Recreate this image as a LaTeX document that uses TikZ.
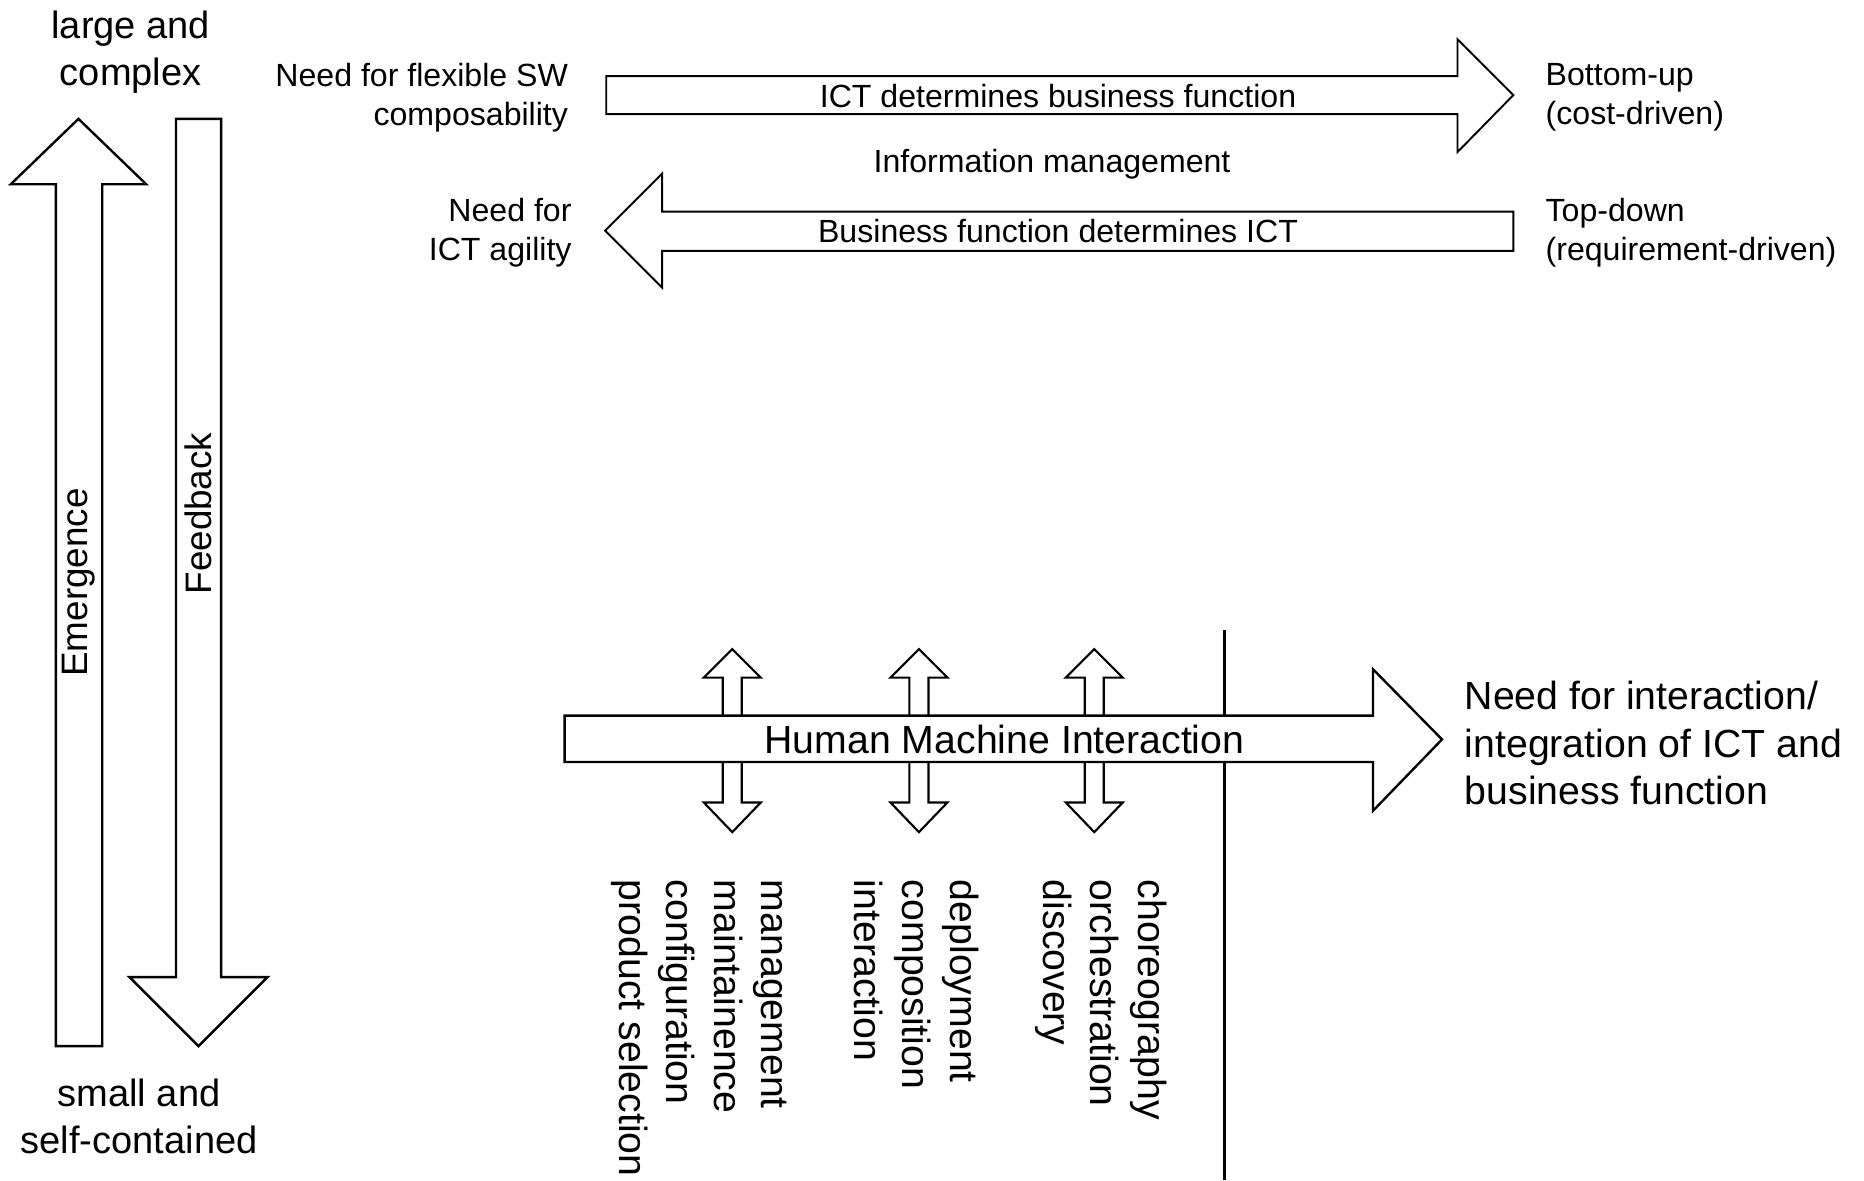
\documentclass[tikz,border=0pt]{standalone}
\usepackage{fontspec}
\setmainfont{Liberation Sans}
\begin{document}
\begin{tikzpicture}[x=1pt,y=-1pt,
  shapeline/.style={draw=black,line width=2pt,fill=white,line join=miter},
  thinshape/.style={draw=black,line width=1.6pt,fill=white,line join=miter},
  small/.style={font=\fontsize{27}{33}\selectfont,inner sep=0pt},
  side/.style={font=\fontsize{32}{39}\selectfont,inner sep=0pt,align=center},
  big/.style={font=\fontsize{33}{40}\selectfont,inner sep=0pt},
  vert/.style={font=\fontsize{33}{40}\selectfont,inner sep=0pt,rotate=-90,anchor=west,align=left}]
\useasboundingbox (0,0) rectangle (1568,993);

% scale labels on the left
\node[side] (large) at (110,44) {large and\\complex};
\node[side] (small) at (117,939) {small and\\self-contained};

% Emergence (upward) and Feedback (downward) block arrows
\draw[shapeline] (47,880) -- (47,155) -- (9,155) -- (66,100) -- (123,155) -- (86,155) -- (86,880) -- cycle;
\node[font=\fontsize{31}{37}\selectfont,inner sep=0pt,rotate=90] (emerg) at (66,490) {Emergence};
\draw[shapeline] (148,100) -- (186,100) -- (186,822) -- (225,822) -- (167,880) -- (109,822) -- (148,822) -- cycle;
\node[font=\fontsize{31}{37}\selectfont,inner sep=0pt,rotate=90] (feed) at (167,432) {Feedback};

% information management arrows
\draw[thinshape] (510,64) -- (1226,64) -- (1226,33) -- (1273,80) -- (1226,128) -- (1226,96) -- (510,96) -- cycle;
\node[small] (ictbf) at (890,81) {ICT determines business function};
\draw[thinshape] (1273,178) -- (557,178) -- (557,146) -- (509,194) -- (557,242) -- (557,211) -- (1273,211) -- cycle;
\node[small] (bfict) at (890,194) {Business function determines ICT};
\node[small] (infom) at (885,138) {Information management};

\node[small,align=right,anchor=east] (needsw) at (478,82) {Need for flexible SW\\composability};
\node[small,align=left,anchor=west] (bottomup) at (1300,82) {Bottom-up\\(cost-driven)};
\node[small,align=right,anchor=east] (needict) at (481,196) {Need for\\ICT agility};
\node[small,align=left,anchor=west] (topdown) at (1300,196) {Top-down\\(requirement-driven)};

% divider line
\draw[line width=2pt] (1030,530) -- (1030,993);

% small two-headed arrows crossing the HMI arrow
\foreach \cx in {616,773,920.5}{
  \draw[shapeline,line width=1.8pt] (\cx,546) -- (\cx+24,570) -- (\cx+8,570) -- (\cx+8,675) -- (\cx+24,675)
    -- (\cx,700) -- (\cx-24,675) -- (\cx-8,675) -- (\cx-8,570) -- (\cx-24,570) -- cycle;
}

% Human Machine Interaction arrow
\draw[shapeline] (475,602) -- (1155,602) -- (1155,563) -- (1213,622) -- (1155,682) -- (1155,641) -- (475,641) -- cycle;
\node[big] (hmi) at (845,622) {Human Machine Interaction};
\node[big,align=left,anchor=west] (needint) at (1232,625) {Need for interaction/\\integration of ICT and\\business function};

% activity lists
\node[vert] (grp1) at (588,740) {management\\maintainence\\configuration\\product selection};
\node[vert] (grp2) at (771,740) {deployment\\composition\\interaction};
\node[vert] (grp3) at (926,740) {choreography\\orchestration\\discovery};
\end{tikzpicture}
\end{document}
